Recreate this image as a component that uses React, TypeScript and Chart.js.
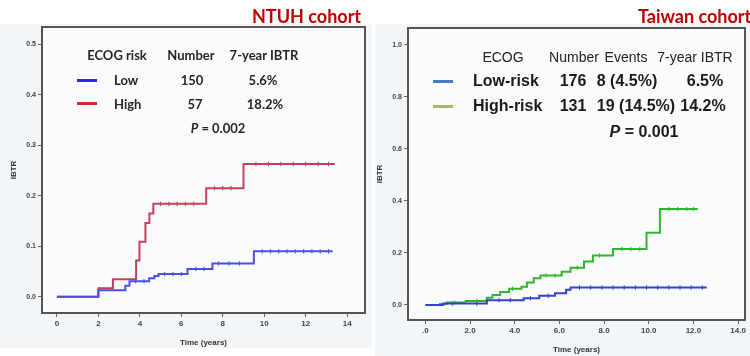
import React, { useEffect, useRef } from "react";
import { Chart, registerables } from "chart.js";
Chart.register(...registerables);

// ---------- data ----------
const ntuhXTicks = [0, 2, 4, 6, 8, 10, 12, 14];
const ntuhXTickLabels = ["0", "2", "4", "6", "8", "10", "12", "14"];
const ntuhYTicks = [0, 0.1, 0.2, 0.3, 0.4, 0.5];
const ntuhYTickLabels = ["0.0", "0.1", "0.2", "0.3", "0.4", "0.5"];

const ntuhLowT = [0, 2.0, 3.3, 3.5, 4.45, 4.7, 4.9, 6.3, 7.5, 9.5, 13.3];
const ntuhLowY = [0, 0.013, 0.022, 0.031, 0.037, 0.041, 0.045, 0.055, 0.066, 0.09, 0.09];
const ntuhLowCens = [3.8, 4.2, 5.2, 5.6, 6.0, 6.7, 7.1, 7.8, 8.3, 8.8, 9.9, 10.3, 10.7, 11.1, 11.5, 11.9, 12.3, 12.7, 13.1];

const ntuhHighT = [0, 2.0, 2.7, 3.82, 3.98, 4.27, 4.46, 4.65, 7.2, 9.0, 13.4];
const ntuhHighY = [0, 0.017, 0.035, 0.072, 0.109, 0.146, 0.165, 0.184, 0.215, 0.263, 0.263];
const ntuhHighCens = [5.0, 5.4, 5.8, 6.2, 6.6, 7.6, 8.0, 8.4, 9.6, 10.2, 10.8, 11.4, 12.0, 12.6, 13.1];

const twXTicks = [0, 2, 4, 6, 8, 10, 12, 14];
const twXTickLabels = [".0", "2.0", "4.0", "6.0", "8.0", "10.0", "12.0", "14.0"];
const twYTicks = [0, 0.2, 0.4, 0.6, 0.8, 1.0];
const twYTickLabels = ["0.0", "0.2", "0.4", "0.6", "0.8", "1.0"];

const twLowT = [0, 0.8, 2.75, 4.4, 5.1, 5.8, 6.3, 6.5, 12.6];
const twLowY = [0, 0.005, 0.018, 0.026, 0.035, 0.045, 0.058, 0.067, 0.067];
const twLowCens = [1.2, 2.3, 3.3, 3.8, 4.7, 5.5, 6.9, 7.4, 7.9, 8.4, 8.9, 9.4, 9.9, 10.4, 10.9, 11.4, 11.9, 12.4];

const twHighT = [0, 0.65, 0.95, 1.8, 2.75, 3.0, 3.35, 3.75, 4.3, 4.55, 4.85, 5.15, 6.1, 6.5, 7.1, 7.5, 8.4, 9.9, 10.5, 12.2];
const twHighY = [0, 0.004, 0.009, 0.015, 0.028, 0.038, 0.05, 0.062, 0.07, 0.086, 0.103, 0.113, 0.128, 0.143, 0.167, 0.19, 0.215, 0.278, 0.369, 0.369];
const twHighCens = [1.3, 2.3, 3.9, 5.4, 5.8, 6.8, 7.8, 8.8, 9.2, 9.6, 10.9, 11.3, 11.7, 12.0];

// ---------- helpers ----------
const stepAt = (T: number[], Y: number[], t: number) => {
  let v = Y[0];
  for (let i = 0; i < T.length; i++) if (T[i] <= t) v = Y[i];
  return v;
};

const curve = (T: number[], Y: number[], color: string) => ({
  type: "line" as const,
  data: T.map((t, i) => ({ x: t, y: Y[i] })),
  borderColor: color,
  borderWidth: 2,
  pointRadius: 0,
  stepped: "before" as const,
  fill: false,
});

const censor = (T: number[], Y: number[], C: number[], color: string) => ({
  type: "scatter" as const,
  data: C.map((t) => ({ x: t, y: stepAt(T, Y, t) })),
  pointStyle: "line" as const,
  rotation: 90,
  pointRadius: 2.2,
  borderColor: color,
  borderWidth: 1,
  backgroundColor: color,
});

const boxPlugin = {
  id: "box",
  beforeDraw(chart: any) {
    const { ctx, chartArea: a } = chart;
    ctx.save();
    ctx.fillStyle = "#f9fbfd";
    ctx.fillRect(a.left, a.top, a.right - a.left, a.bottom - a.top);
    ctx.restore();
  },
  afterDraw(chart: any) {
    const { ctx, chartArea: a } = chart;
    ctx.save();
    ctx.strokeStyle = "#555";
    ctx.lineWidth = 2;
    ctx.strokeRect(a.left, a.top, a.right - a.left, a.bottom - a.top);
    ctx.restore();
  },
};

type KMProps = {
  width: number;
  height: number;
  padding: { left: number; right: number; top: number; bottom: number };
  yAxisWidth: number;
  xAxisHeight: number;
  xMin: number;
  xMax: number;
  yMin: number;
  yMax: number;
  xTicks: number[];
  xLabels: string[];
  yTicks: number[];
  yLabels: string[];
  xTitlePad: number;
  yTitlePad: number;
  datasets: any[];
};

function KMChart(p: KMProps) {
  const ref = useRef<HTMLCanvasElement | null>(null);
  useEffect(() => {
    if (!ref.current) return;
    const tickFont = { size: 8, weight: "bold" as const, family: "Arial, 'Liberation Sans', sans-serif" };
    const chart = new Chart(ref.current, {
      type: "line",
      data: { datasets: p.datasets },
      options: {
        animation: false,
        responsive: false,
        maintainAspectRatio: false,
        layout: { padding: p.padding },
        plugins: { legend: { display: false }, tooltip: { enabled: false } },
        scales: {
          x: {
            type: "linear",
            min: p.xMin,
            max: p.xMax,
            afterBuildTicks: (s: any) => {
              s.ticks = p.xTicks.map((v) => ({ value: v }));
            },
            afterFit: (s: any) => {
              s.height = p.xAxisHeight;
            },
            ticks: {
              autoSkip: false,
              maxRotation: 0,
              padding: 2,
              color: "#444",
              font: tickFont,
              callback: (_v: any, i: number) => p.xLabels[i],
            },
            grid: { drawOnChartArea: false, drawTicks: true, tickLength: 4, color: "#666", lineWidth: 1 },
            border: { display: true, color: "#555", width: 2 },
            title: {
              display: true,
              text: "Time (years)",
              color: "#333",
              font: { size: 8, weight: "bold", family: "Arial, 'Liberation Sans', sans-serif" },
              padding: { top: 0, bottom: p.xTitlePad },
            },
          },
          y: {
            type: "linear",
            min: p.yMin,
            max: p.yMax,
            afterBuildTicks: (s: any) => {
              s.ticks = p.yTicks.map((v) => ({ value: v }));
            },
            afterFit: (s: any) => {
              s.width = p.yAxisWidth;
            },
            ticks: {
              autoSkip: false,
              padding: 2,
              color: "#444",
              font: { ...tickFont, size: 7 },
              callback: (_v: any, i: number) => p.yLabels[i],
            },
            grid: { drawOnChartArea: false, drawTicks: true, tickLength: 4, color: "#666", lineWidth: 1 },
            border: { display: true, color: "#555", width: 2 },
            title: {
              display: true,
              text: "IBTR",
              color: "#333",
              font: { size: 8, weight: "bold", family: "Arial, 'Liberation Sans', sans-serif" },
              padding: { top: p.yTitlePad, bottom: 0 },
            },
          },
        },
      },
      plugins: [boxPlugin],
    } as any);
    return () => chart.destroy();
  }, []);
  return <canvas ref={ref} width={p.width} height={p.height} style={{ width: p.width, height: p.height, display: "block" }} />;
}

const abs = (x: number, y: number, extra: React.CSSProperties = {}): React.CSSProperties => ({
  position: "absolute",
  left: x,
  top: y,
  transform: "translate(-50%, -50%)",
  whiteSpace: "nowrap",
  lineHeight: 1,
  ...extra,
});
const absL = (x: number, y: number, extra: React.CSSProperties = {}): React.CSSProperties => ({
  position: "absolute",
  left: x,
  top: y,
  transform: "translate(0, -50%)",
  whiteSpace: "nowrap",
  lineHeight: 1,
  ...extra,
});

export default function App() {
  const lf: React.CSSProperties = { fontFamily: "Lato, 'Open Sans', sans-serif", fontSize: 13, color: "#262626", fontWeight: 700 };
  const rh: React.CSSProperties = { fontFamily: "'Liberation Sans', Arial, sans-serif", fontSize: 14, color: "#222" };
  const rr: React.CSSProperties = { fontFamily: "'Liberation Sans', Arial, sans-serif", fontSize: 16, color: "#1a1a1a", fontWeight: 700 };
  const title: React.CSSProperties = { fontFamily: "Lato, 'Open Sans', sans-serif", fontSize: 18, fontWeight: 700, color: "#c00000" };
  return (
    <div style={{ position: "absolute", left: 0, top: 0, width: 750, height: 356, background: "#ffffff", overflow: "hidden" }}>
      <div style={{ position: "absolute", left: 0, top: 24, width: 372, height: 324, background: "#f3f6f9" }} />
      <div style={{ position: "absolute", left: 375, top: 24, width: 375, height: 332, background: "#f3f6f9" }} />
      <div style={{ position: "absolute", left: 0, top: 0 }}>
        <KMChart
          width={370}
          height={356}
          padding={{ left: 0, right: 3, top: 27, bottom: 0 }}
          yAxisWidth={42}
          xAxisHeight={43}
          xMin={-0.72}
          xMax={14.86}
          yMin={-0.032}
          yMax={0.534}
          xTicks={ntuhXTicks}
          xLabels={ntuhXTickLabels}
          yTicks={ntuhYTicks}
          yLabels={ntuhYTickLabels}
          xTitlePad={8}
          yTitlePad={9}
          datasets={[
            curve(ntuhLowT, ntuhLowY, "#4b4fe0"),
            curve(ntuhHighT, ntuhHighY, "#c4405a"),
            censor(ntuhLowT, ntuhLowY, ntuhLowCens, "#4b4fe0"),
            censor(ntuhHighT, ntuhHighY, ntuhHighCens, "#c4405a"),
          ]}
        />
      </div>
      <div style={{ position: "absolute", left: 375, top: 0 }}>
        <KMChart
          width={375}
          height={356}
          padding={{ left: 0, right: 1, top: 28, bottom: 0 }}
          yAxisWidth={33}
          xAxisHeight={36}
          xMin={-0.78}
          xMax={14.31}
          yMin={-0.058}
          yMax={1.065}
          xTicks={twXTicks}
          xLabels={twXTickLabels}
          yTicks={twYTicks}
          yLabels={twYTickLabels}
          xTitlePad={1}
          yTitlePad={0}
          datasets={[
            curve(twLowT, twLowY, "#3441cc"),
            curve(twHighT, twHighY, "#2fb52f"),
            censor(twLowT, twLowY, twLowCens, "#3441cc"),
            censor(twHighT, twHighY, twHighCens, "#2fb52f"),
          ]}
        />
      </div>

      {/* titles */}
      <div style={absL(252, 16, title)}>NTUH cohort</div>
      <div style={absL(638, 16, title)}>Taiwan cohort</div>

      {/* NTUH legend table */}
      <div style={abs(117, 55, lf)}>ECOG risk</div>
      <div style={abs(191, 55, lf)}>Number</div>
      <div style={abs(264, 55, lf)}>7-year IBTR</div>
      <div style={{ position: "absolute", left: 77, top: 79, width: 20, height: 3, background: "#2a2ae0" }} />
      <div style={absL(114, 80, lf)}>Low</div>
      <div style={abs(192, 80, lf)}>150</div>
      <div style={abs(263, 80, lf)}>5.6%</div>
      <div style={{ position: "absolute", left: 77, top: 102, width: 20, height: 3, background: "#d42a3a" }} />
      <div style={absL(114, 104, lf)}>High</div>
      <div style={abs(195, 104, lf)}>57</div>
      <div style={abs(265, 104, lf)}>18.2%</div>
      <div style={abs(218, 128, lf)}>
        <i>P</i> = 0.002
      </div>

      {/* Taiwan legend table */}
      <div style={abs(503, 57, rh)}>ECOG</div>
      <div style={abs(574, 57, rh)}>Number</div>
      <div style={abs(626, 57, rh)}>Events</div>
      <div style={abs(695, 57, rh)}>7-year IBTR</div>
      <div style={{ position: "absolute", left: 433, top: 80, width: 20, height: 3, background: "#4a7cc0" }} />
      <div style={absL(473, 81, rr)}>Low-risk</div>
      <div style={abs(573, 81, rr)}>176</div>
      <div style={abs(627, 81, rr)}>8 (4.5%)</div>
      <div style={abs(705, 81, rr)}>6.5%</div>
      <div style={{ position: "absolute", left: 433, top: 105, width: 20, height: 3, background: "#a4bd62" }} />
      <div style={absL(473, 106, rr)}>High-risk</div>
      <div style={abs(573, 106, rr)}>131</div>
      <div style={abs(636, 106, rr)}>19 (14.5%)</div>
      <div style={abs(703, 106, rr)}>14.2%</div>
      <div style={abs(644, 132, rr)}>
        <i>P</i> = 0.001
      </div>
    </div>
  );
}
